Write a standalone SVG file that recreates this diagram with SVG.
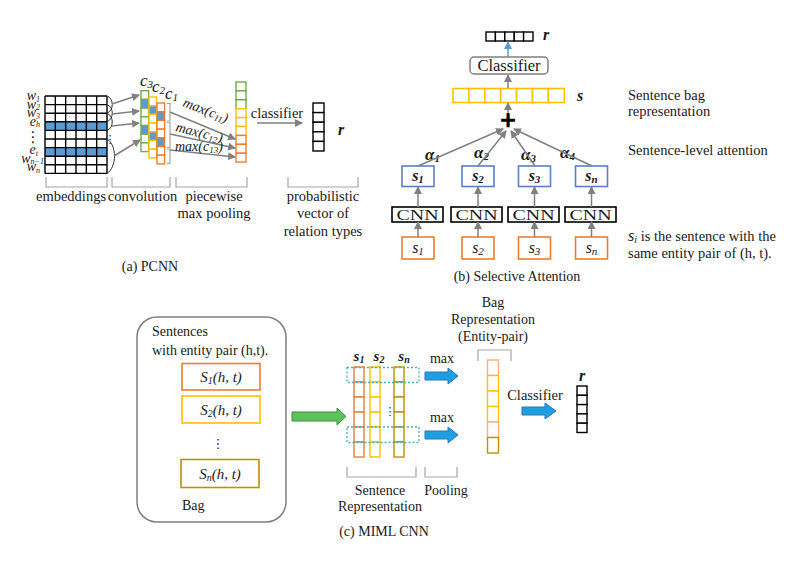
<svg xmlns="http://www.w3.org/2000/svg" width="800" height="570" viewBox="0 0 800 570" font-family="'Liberation Serif','Times New Roman',serif">
<style>
text{font-family:"Liberation Serif","Times New Roman",serif;fill:#1a1a1a;font-size:14px}
.c{text-anchor:middle}
.m{font-style:italic}
.mb{font-style:italic;font-weight:bold}
.sub{font-size:10px}
.l{font-size:14.5px}
.grid{fill:none;stroke:#000;stroke-width:1.4}
.br{fill:none;stroke:#a6a6a6;stroke-width:1.2}
.ga{stroke:#808080;stroke-width:1.5;fill:none;marker-end:url(#ah)}
.cg{fill:#fff;stroke:#70AD47;stroke-width:1.4}
.cy{fill:#fff;stroke:#FFC000;stroke-width:1.4}
.co{fill:#fff;stroke:#ED7D31;stroke-width:1.4}
.cd{fill:#fff;stroke:#BF9000;stroke-width:1.4}
.ck{fill:#fff;stroke:#000;stroke-width:1.4}
.bl{fill:#5B9BD5}
.bbox{fill:#fff;stroke:#5B7FC0;stroke-width:1.6}
.obox{fill:#fff;stroke:#ED7D31;stroke-width:1.6}
.cnn{fill:#fff;stroke:#000;stroke-width:1.6}
.dot{fill:none;stroke:#4BACC6;stroke-width:1.3;stroke-dasharray:2 2}
.barr{fill:#1E9FE0;stroke:#2E75B6;stroke-width:1}
.vd{font-size:11px;font-family:"DejaVu Sans",sans-serif;text-anchor:middle}
</style>
<defs>
<marker id="ah" markerWidth="8" markerHeight="8" refX="7" refY="4" orient="auto" markerUnits="userSpaceOnUse"><path d="M0,0 L8,4 L0,8 z" fill="#808080"/></marker>
<marker id="ahb" markerWidth="8" markerHeight="8" refX="7" refY="4" orient="auto" markerUnits="userSpaceOnUse"><path d="M0,0 L8,4 L0,8 z" fill="#5B9BD5"/></marker>
</defs>

<!-- ===== (a) PCNN ===== -->
<g id="embeddings">
<rect class="bl" x="45" y="121.8" width="62" height="8.6"/>
<rect class="bl" x="45" y="147.6" width="62" height="8.6"/>
<path class="grid" d="M45,96H107M45,104.6H107M45,113.2H107M45,121.8H107M45,130.4H107M45,139H107M45,147.6H107M45,156.2H107M45,164.8H107M45,173.4H107M45,96V173.4M55.33,96V173.4M65.67,96V173.4M76,96V173.4M86.33,96V173.4M96.67,96V173.4M107,96V173.4"/>
<g class="m" style="font-size:11px" text-anchor="end">
<text x="40" y="100">w<tspan style="font-size:8px" dy="1.5">1</tspan></text>
<text x="40" y="108.5">w<tspan style="font-size:8px" dy="1.5">2</tspan></text>
<text x="40" y="117">w<tspan style="font-size:8px" dy="1.5">3</tspan></text>
<text x="40" y="125.5">e<tspan style="font-size:8px" dy="1.5">h</tspan></text>
<text x="38" y="154">e<tspan style="font-size:8px" dy="1.5">t</tspan></text>
<text x="44" y="162.5">w<tspan style="font-size:8px" dy="1.5">n−1</tspan></text>
<text x="40" y="171">w<tspan style="font-size:8px" dy="1.5">n</tspan></text>
</g>
<text x="33" y="142" class="vd" style="font-size:15px">⋮</text>
<path d="M107,96 C114,98 114,111 107,113 M107,104.6 C114,107 114,119 107,121.8 M107,113.2 C114,116 114,128 107,130.4 M107,139 C117,145 117,167 107,173.4" fill="none" stroke="#333" stroke-width="1"/>
<text x="110" y="143" class="vd">⋮</text>
</g>

<g id="convolution">
<rect class="cg" x="141" y="90.7" width="7.6" height="8.7"/><rect class="cg" x="141" y="99.4" width="7.6" height="8.7" style="fill:#5B9BD5"/><rect class="cg" x="141" y="108.1" width="7.6" height="8.7"/><rect class="cg" x="141" y="116.8" width="7.6" height="8.7"/><rect class="cg" x="141" y="125.5" width="7.6" height="8.7" style="fill:#5B9BD5"/><rect class="cg" x="141" y="134.2" width="7.6" height="8.7"/><rect class="cg" x="141" y="142.9" width="7.6" height="8.7"/>
<rect class="cy" x="149" y="97" width="7.6" height="8.7"/><rect class="cy" x="149" y="105.7" width="7.6" height="8.7" style="fill:#5B9BD5"/><rect class="cy" x="149" y="114.4" width="7.6" height="8.7"/><rect class="cy" x="149" y="123.1" width="7.6" height="8.7"/><rect class="cy" x="149" y="131.8" width="7.6" height="8.7" style="fill:#5B9BD5"/><rect class="cy" x="149" y="140.5" width="7.6" height="8.7"/><rect class="cy" x="149" y="149.2" width="7.6" height="8.7"/>
<rect class="co" x="157" y="103" width="7.6" height="8.7"/><rect class="co" x="157" y="111.7" width="7.6" height="8.7" style="fill:#5B9BD5"/><rect class="co" x="157" y="120.4" width="7.6" height="8.7"/><rect class="co" x="157" y="129.1" width="7.6" height="8.7"/><rect class="co" x="157" y="137.8" width="7.6" height="8.7" style="fill:#5B9BD5"/><rect class="co" x="157" y="146.5" width="7.6" height="8.7"/><rect class="co" x="157" y="155.2" width="7.6" height="8.7"/>
<text x="140" y="86" class="m" style="font-size:17px">c<tspan style="font-size:11px" dy="2">3</tspan></text>
<text x="152" y="92" class="m" style="font-size:17px">c<tspan style="font-size:11px" dy="2">2</tspan></text>
<text x="165" y="99" class="m" style="font-size:17px">c<tspan style="font-size:11px" dy="2">1</tspan></text>
<path class="br" d="M167,103.5H170V121M167,121H170 M167,122.5H170V147.5H167 M167,149H170V163.5H167"/>
</g>

<g id="pooling">
<rect class="cg" x="236" y="82" width="10" height="8.9"/><rect class="cg" x="236" y="90.9" width="10" height="8.9"/><rect class="cg" x="236" y="99.8" width="10" height="8.9"/>
<rect class="cy" x="236" y="108.7" width="10" height="8.9"/><rect class="cy" x="236" y="117.6" width="10" height="8.9"/><rect class="cy" x="236" y="126.5" width="10" height="8.9"/>
<rect class="co" x="236" y="135.4" width="10" height="8.9"/><rect class="co" x="236" y="144.3" width="10" height="8.9"/><rect class="co" x="236" y="153.2" width="10" height="8.9"/>
</g>

<g id="pcnn-output">
<rect class="ck" x="313" y="103" width="11" height="9.6"/><rect class="ck" x="313" y="112.6" width="11" height="9.6"/><rect class="ck" x="313" y="122.2" width="11" height="9.6"/><rect class="ck" x="313" y="131.8" width="11" height="9.6"/><rect class="ck" x="313" y="141.4" width="11" height="9.6"/>
<text x="338" y="135" class="mb" style="font-size:16px">r</text>
</g>

<g id="pcnn-labels">
<path class="br" d="M46,177V187H107V177 M112,177V187H170V177 M176,177V187H247V177 M288,177V187H358V177"/>
<text x="71" y="201" class="c l">embeddings</text>
<text x="142.5" y="201" class="c l">convolution</text>
<text x="214" y="201" class="c l">piecewise</text>
<text x="214" y="218" class="c l">max pooling</text>
<text x="323" y="201" class="c l">probabilistic</text>
<text x="323" y="218" class="c l">vector of</text>
<text x="323" y="236" class="c l">relation types</text>
<text x="150" y="271" class="c">(a) PCNN</text>
</g>

<!-- ===== (b) Selective Attention ===== -->
<g id="att-r">
<rect class="ck" x="486" y="32" width="9.4" height="9"/><rect class="ck" x="495.4" y="32" width="9.4" height="9"/><rect class="ck" x="504.8" y="32" width="9.4" height="9"/><rect class="ck" x="514.2" y="32" width="9.4" height="9"/><rect class="ck" x="523.6" y="32" width="9.4" height="9"/>
<text x="543" y="40" class="mb" style="font-size:16px">r</text>
</g>
<g id="att-classifier">
<rect x="470" y="57" width="78" height="17" rx="4" fill="#fff" stroke="#808080" stroke-width="1.5"/>
<text x="509" y="71" class="c" style="font-size:16.5px">Classifier</text>
</g>
<g id="att-s">
<rect class="cy" x="453" y="88.5" width="15.9" height="14" style="stroke-width:1.6"/><rect class="cy" x="468.9" y="88.5" width="15.9" height="14" style="stroke-width:1.6"/><rect class="cy" x="484.8" y="88.5" width="15.9" height="14" style="stroke-width:1.6"/><rect class="cy" x="500.7" y="88.5" width="15.9" height="14" style="stroke-width:1.6"/><rect class="cy" x="516.6" y="88.5" width="15.9" height="14" style="stroke-width:1.6"/><rect class="cy" x="532.5" y="88.5" width="15.9" height="14" style="stroke-width:1.6"/><rect class="cy" x="548.4" y="88.5" width="15.9" height="14" style="stroke-width:1.6"/>
<text x="577" y="101" class="mb" style="font-size:16px">s</text>
</g>
<g id="att-plus"><text x="508" y="127" class="c" style="font-size:21px;font-weight:bold;fill:#000;stroke:#000;stroke-width:0.6;font-family:'DejaVu Sans',sans-serif">+</text></g>

<g id="att-s1"><rect class="bbox" x="402" y="166" width="32" height="20.5"/><text x="418" y="181" class="c mb" style="font-size:16px">s<tspan style="font-size:11px" dy="2">1</tspan></text></g>
<g id="att-s2"><rect class="bbox" x="462" y="166" width="32" height="20.5"/><text x="478" y="181" class="c mb" style="font-size:16px">s<tspan style="font-size:11px" dy="2">2</tspan></text></g>
<g id="att-s3"><rect class="bbox" x="518.5" y="166" width="32" height="20.5"/><text x="534.5" y="181" class="c mb" style="font-size:16px">s<tspan style="font-size:11px" dy="2">3</tspan></text></g>
<g id="att-sn"><rect class="bbox" x="575.5" y="166" width="32" height="20.5"/><text x="591.5" y="181" class="c mb" style="font-size:16px">s<tspan style="font-size:11px" dy="2">n</tspan></text></g>

<g id="cnn1"><rect class="cnn" x="392" y="207" width="51" height="15"/><text x="417.5" y="219.5" class="c" style="font-size:15px" textLength="42" lengthAdjust="spacingAndGlyphs">CNN</text></g>
<g id="cnn2"><rect class="cnn" x="451" y="207" width="51" height="15"/><text x="476.5" y="219.5" class="c" style="font-size:15px" textLength="42" lengthAdjust="spacingAndGlyphs">CNN</text></g>
<g id="cnn3"><rect class="cnn" x="508" y="207" width="51" height="15"/><text x="533.5" y="219.5" class="c" style="font-size:15px" textLength="42" lengthAdjust="spacingAndGlyphs">CNN</text></g>
<g id="cnn4"><rect class="cnn" x="565" y="207" width="51" height="15"/><text x="590.5" y="219.5" class="c" style="font-size:15px" textLength="42" lengthAdjust="spacingAndGlyphs">CNN</text></g>

<g id="in-s1"><rect class="obox" x="402" y="237" width="32" height="22"/><text x="418" y="253" class="c m" style="font-size:16px">s<tspan style="font-size:11px" dy="2">1</tspan></text></g>
<g id="in-s2"><rect class="obox" x="462" y="237" width="32" height="22"/><text x="478" y="253" class="c m" style="font-size:16px">s<tspan style="font-size:11px" dy="2">2</tspan></text></g>
<g id="in-s3"><rect class="obox" x="518.5" y="237" width="32" height="22"/><text x="534.5" y="253" class="c m" style="font-size:16px">s<tspan style="font-size:11px" dy="2">3</tspan></text></g>
<g id="in-sn"><rect class="obox" x="575.5" y="237" width="32" height="22"/><text x="591.5" y="253" class="c m" style="font-size:16px">s<tspan style="font-size:11px" dy="2">n</tspan></text></g>

<g id="att-labels">
<text x="425" y="160" class="mb" style="font-size:17px">α<tspan style="font-size:11px" dy="2">1</tspan></text>
<text x="474" y="158" class="mb" style="font-size:17px">α<tspan style="font-size:11px" dy="2">2</tspan></text>
<text x="521" y="160" class="mb" style="font-size:17px">α<tspan style="font-size:11px" dy="2">3</tspan></text>
<text x="560" y="158" class="mb" style="font-size:17px">α<tspan style="font-size:11px" dy="2">4</tspan></text>
<text x="628" y="100" class="l">Sentence bag</text>
<text x="628" y="116" class="l">representation</text>
<text x="628" y="155" class="l">Sentence-level attention</text>
<text x="628" y="241" class="l"><tspan class="m" style="font-size:16px">s</tspan><tspan class="m sub" dy="2">i</tspan><tspan dy="-2"> is the sentence with the</tspan></text>
<text x="628" y="258" class="l">same entity pair of (h, t).</text>
<text x="517" y="281" class="c">(b) Selective Attention</text>
</g>

<!-- ===== (c) MIML CNN ===== -->
<g id="bag">
<rect x="137" y="317" width="149" height="205" rx="20" fill="#fff" stroke="#7f7f7f" stroke-width="1.5"/>
<text x="152" y="336">Sentences</text>
<text x="152" y="355">with entity pair (h,t).</text>
<rect class="obox" x="182" y="363.5" width="78" height="26.5"/>
<text x="221" y="382" class="c m" style="font-size:15px">S<tspan style="font-size:10px" dy="2">1</tspan><tspan dy="-2">(h, t)</tspan></text>
<rect class="cy" x="182" y="396" width="78" height="27" style="stroke-width:1.6"/>
<text x="221" y="415" class="c m" style="font-size:15px">S<tspan style="font-size:10px" dy="2">2</tspan><tspan dy="-2">(h, t)</tspan></text>
<text x="218" y="448" class="vd" style="font-size:13px">⋮</text>
<rect class="cd" x="181" y="459.5" width="78" height="28" style="stroke-width:1.6"/>
<text x="220" y="479" class="c m" style="font-size:15px">S<tspan style="font-size:10px" dy="2">n</tspan><tspan dy="-2">(h, t)</tspan></text>
<text x="182" y="510">Bag</text>
</g>

<g id="sentence-rep">
<text x="359" y="361" class="c mb" style="font-size:15px">s<tspan style="font-size:10px" dy="2">1</tspan></text>
<text x="379" y="361" class="c mb" style="font-size:15px">s<tspan style="font-size:10px" dy="2">2</tspan></text>
<text x="404" y="361" class="c mb" style="font-size:15px">s<tspan style="font-size:10px" dy="2">n</tspan></text>
<rect class="co" x="354" y="367" width="10" height="15"/><rect class="co" x="354" y="382" width="10" height="15"/><rect class="co" x="354" y="397" width="10" height="15"/><rect class="co" x="354" y="412" width="10" height="15"/><rect class="co" x="354" y="427" width="10" height="15"/><rect class="co" x="354" y="442" width="10" height="15"/>
<rect class="cy" x="370" y="367" width="10" height="15"/><rect class="cy" x="370" y="382" width="10" height="15"/><rect class="cy" x="370" y="397" width="10" height="15"/><rect class="cy" x="370" y="412" width="10" height="15"/><rect class="cy" x="370" y="427" width="10" height="15"/><rect class="cy" x="370" y="442" width="10" height="15"/>
<rect class="cd" x="394" y="367" width="10" height="15"/><rect class="cd" x="394" y="382" width="10" height="15"/><rect class="cd" x="394" y="397" width="10" height="15"/><rect class="cd" x="394" y="412" width="10" height="15"/><rect class="cd" x="394" y="427" width="10" height="15"/><rect class="cd" x="394" y="442" width="10" height="15"/>
<text x="390" y="415" class="vd">⋮</text>
<rect class="dot" x="347" y="367.5" width="72" height="15"/>
<rect class="dot" x="347" y="427" width="72" height="15.5"/>
<path class="br" d="M347,467V477H416V467 M425,467V477H457V467"/>
<text x="380" y="495" class="c">Sentence</text>
<text x="380" y="511" class="c">Representation</text>
<text x="446" y="495" class="c">Pooling</text>
<text x="442" y="363" class="c">max</text>
<text x="442" y="422" class="c">max</text>
</g>

<g id="bag-rep">
<text x="493" y="307" class="c">Bag</text>
<text x="493" y="324" class="c">Representation</text>
<text x="493" y="341" class="c">(Entity-pair)</text>
<path class="br" d="M478,361V350H511V361"/>
<rect class="co" x="487.5" y="360" width="11" height="15.5" style="stroke:#F4B183"/>
<rect class="cy" x="487.5" y="375.5" width="11" height="15.5"/>
<rect class="cy" x="487.5" y="391" width="11" height="15.5"/>
<rect class="cy" x="487.5" y="406.5" width="11" height="15.5"/>
<rect class="co" x="487.5" y="422" width="11" height="15.5" style="stroke:#F4B183"/>
<rect class="cd" x="487.5" y="437.5" width="11" height="15.5"/>
</g>

<g id="miml-output">
<text x="535" y="400" class="c l">Classifier</text>
<text x="582" y="381" class="c mb" style="font-size:16px">r</text>
<rect class="ck" x="577" y="386" width="10" height="9.3"/><rect class="ck" x="577" y="395.3" width="10" height="9.3"/><rect class="ck" x="577" y="404.6" width="10" height="9.3"/><rect class="ck" x="577" y="413.9" width="10" height="9.3"/><rect class="ck" x="577" y="423.2" width="10" height="9.3"/>
<text x="384" y="536" class="c">(c) MIML CNN</text>
</g>

<g id="connectors">
<path class="ga" d="M112,104 L139,95"/>
<path class="ga" d="M112,114 L139,111"/>
<path class="ga" d="M112,126 L139,123"/>
<path class="ga" d="M114,156 L140,140"/>
<path class="ga" d="M170,112 L235,139"/>
<path class="ga" d="M170,134 L235,148"/>
<path class="ga" d="M170,150 L235,157"/>
<text transform="translate(182,106) rotate(21)" class="m" style="font-size:14px">max(c<tspan style="font-size:9px" dy="2">11</tspan><tspan dy="-2">)</tspan></text>
<text transform="translate(175,131) rotate(14)" class="m" style="font-size:14px">max(c<tspan style="font-size:9px" dy="2">12</tspan><tspan dy="-2">)</tspan></text>
<text x="175" y="151" class="m" style="font-size:14px">max(c<tspan style="font-size:9px" dy="2">13</tspan><tspan dy="-2">)</tspan></text>
<path class="ga" d="M257,123 L302,123"/>
<text x="277" y="118" class="c l">classifier</text>
<path d="M508,57 L508,42" stroke="#5B9BD5" stroke-width="1.5" marker-end="url(#ahb)"/>
<path class="ga" d="M508,88 L508,75"/>
<path class="ga" d="M508,113 L508,103"/>
<path class="ga" d="M418,166 L503,129"/>
<path class="ga" d="M478,166 L506,131"/>
<path class="ga" d="M535,166 L511,131"/>
<path class="ga" d="M592,166 L514,129"/>
<path class="ga" d="M418,237 L418,222"/>
<path class="ga" d="M478,237 L478,222"/>
<path class="ga" d="M534.5,237 L534.5,222"/>
<path class="ga" d="M591.5,237 L591.5,222"/>
<path class="ga" d="M418,207 L418,187"/>
<path class="ga" d="M478,207 L478,187"/>
<path class="ga" d="M534.5,207 L534.5,187"/>
<path class="ga" d="M591.5,207 L591.5,187"/>
<polygon points="292,412 337,412 337,408 346,416.5 337,425 337,421 292,421" fill="#5CC25C" stroke="#3E8E3E" stroke-width="1"/>
<polygon class="barr" points="425,372 448,372 448,368 458,376 448,384 448,380 425,380"/>
<polygon class="barr" points="425,431 448,431 448,427 458,435 448,443 448,439 425,439"/>
<polygon class="barr" points="522,407 545,407 545,403 556,411 545,419 545,415 522,415"/>
</g>
</svg>
